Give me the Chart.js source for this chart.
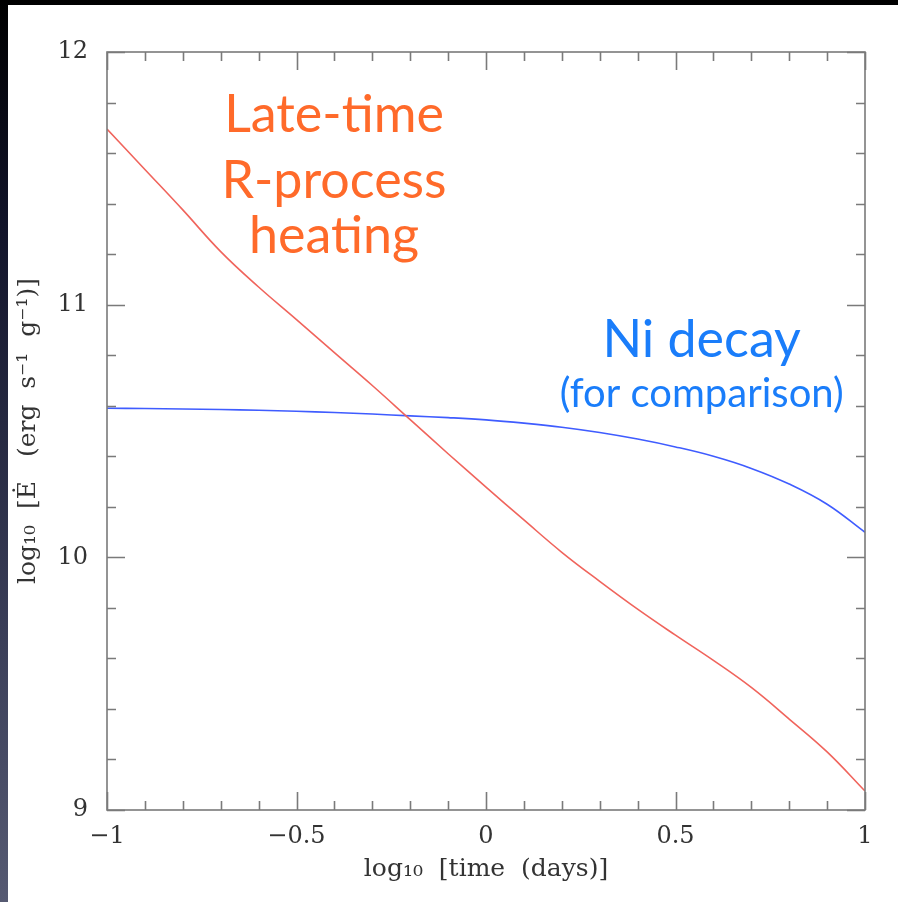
<!DOCTYPE html>
<html>
<head>
<meta charset="utf-8">
<script src="https://cdn.jsdelivr.net/npm/chart.js@4.4.1/dist/chart.umd.min.js"></script>
<style>
  html, body {
    margin: 0;
    padding: 0;
    width: 898px;
    height: 902px;
    overflow: hidden;
    background: linear-gradient(to bottom, #000 0%, #12142a 25%, #3a3e58 70%, #565a72 100%);
  }
  #panel {
    position: absolute;
    left: 8px;
    top: 5px;
    width: 890px;
    height: 897px;
    background: #fff;
  }
</style>
</head>
<body>
<div id="panel"><canvas id="heating" width="890" height="897"></canvas></div>
<script>
// log10 time in days
const logTime = [-1, -0.9, -0.8, -0.7, -0.6, -0.5, -0.4, -0.3, -0.2, -0.1, 0,
  0.1, 0.2, 0.3, 0.4, 0.5, 0.6, 0.7, 0.8, 0.9, 1];

// late-time r-process heating, log10 Edot (erg/s/g)
const rProcess = [11.695, 11.535, 11.375, 11.21, 11.07, 10.941, 10.81, 10.68, 10.545, 10.41, 10.278,
  10.148, 10.02, 9.905, 9.795, 9.692, 9.592, 9.485, 9.36, 9.23, 9.075];

// 56Ni decay heating for comparison
const niDecay = [10.59, 10.589, 10.587, 10.585, 10.582, 10.578, 10.573, 10.567, 10.56, 10.553, 10.544,
  10.531, 10.515, 10.494, 10.468, 10.437, 10.4, 10.352, 10.29, 10.21, 10.099];

const xTicks = [-1, -0.5, 0, 0.5, 1];
const yTicks = [9, 10, 11, 12];

const AXIS_COLOR = "#7a7a7a";
const LABEL_COLOR = "#333";
const SERIF = "'DejaVu Serif', serif";
const SANS = "Lato, 'Open Sans', sans-serif";

const toPoints = ys => logTime.map((t, i) => ({ x: t, y: ys[i] }));

// frame with inward ticks on all four sides
const frameTicks = {
  id: "frameTicks",
  afterDraw(chart) {
    const { ctx, chartArea: a, scales: { x, y } } = chart;
    ctx.save();
    ctx.strokeStyle = AXIS_COLOR;
    ctx.lineWidth = 1.6;
    ctx.strokeRect(a.left, a.top, a.right - a.left, a.bottom - a.top);
    ctx.beginPath();
    for (let i = 0; i <= 20; i++) {
      const v = -1 + i * 0.1;
      const px = Math.round(x.getPixelForValue(v)) + 0.5;
      const len = i % 5 === 0 ? 18 : 9;
      ctx.moveTo(px, a.bottom); ctx.lineTo(px, a.bottom - len);
      ctx.moveTo(px, a.top); ctx.lineTo(px, a.top + len);
    }
    for (let i = 0; i <= 15; i++) {
      const v = 9 + i * 0.2;
      const py = Math.round(y.getPixelForValue(v)) + 0.5;
      const len = i % 5 === 0 ? 18 : 9;
      ctx.moveTo(a.left, py); ctx.lineTo(a.left + len, py);
      ctx.moveTo(a.right, py); ctx.lineTo(a.right - len, py);
    }
    ctx.stroke();
    ctx.restore();
  }
};

// text labels placed in data coordinates
const notes = [
  { text: "Late-time", x: -0.401, y: 11.685, size: 52, color: "#ff6a2a" },
  { text: "R-process", x: -0.401, y: 11.422, size: 52, color: "#ff6a2a" },
  { text: "heating", x: -0.401, y: 11.203, size: 52, color: "#ff6a2a" },
  { text: "Ni decay", x: 0.569, y: 10.793, size: 52, color: "#1a7dfa" },
  { text: "(for comparison)", x: 0.569, y: 10.595, size: 40, color: "#1a7dfa" }
];

const noteLabels = {
  id: "noteLabels",
  afterDatasetsDraw(chart) {
    const { ctx, scales: { x, y } } = chart;
    ctx.save();
    ctx.textAlign = "center";
    ctx.textBaseline = "alphabetic";
    notes.forEach(n => {
      ctx.font = `${n.size}px ${SANS}`;
      ctx.fillStyle = n.color;
      ctx.fillText(n.text, x.getPixelForValue(n.x), y.getPixelForValue(n.y));
    });
    ctx.restore();
  }
};

new Chart(document.getElementById("heating"), {
  type: "scatter",
  data: {
    datasets: [{
      label: "R-process heating",
      data: toPoints(rProcess),
      showLine: true,
      borderColor: "#f0645c",
      borderWidth: 1.6,
      pointRadius: 0,
      tension: 0.4,
    }, {
      label: "Ni decay",
      data: toPoints(niDecay),
      showLine: true,
      borderColor: "#3f5cff",
      borderWidth: 1.6,
      pointRadius: 0,
      tension: 0.4,
    }],
  },
  options: {
    responsive: false,
    animation: false,
    layout: {
      padding: { top: 47, right: 33, left: 0, bottom: 0 },
    },
    plugins: {
      legend: { display: false },
      tooltip: { enabled: false },
    },
    scales: {
      x: {
        type: "linear",
        min: -1,
        max: 1,
        afterFit(scale) { scale.height = 92; },
        afterBuildTicks(scale) { scale.ticks = xTicks.map(v => ({ value: v })); },
        border: { display: false },
        grid: { display: false, drawTicks: false },
        ticks: {
          autoSkip: false,
          maxRotation: 0,
          padding: 12,
          color: LABEL_COLOR,
          font: { family: SERIF, size: 24 },
          callback: v => (v < 0 ? "\u2212" + Math.abs(v) : String(v)),
        },
        title: {
          display: true,
          text: "log\u2081\u2080  [time  (days)]",
          color: LABEL_COLOR,
          font: { family: SERIF, size: 25 },
          padding: { top: 0, bottom: 18 },
        },
      },
      y: {
        type: "linear",
        min: 9,
        max: 12,
        afterFit(scale) { scale.width = 99; },
        afterBuildTicks(scale) { scale.ticks = yTicks.map(v => ({ value: v })); },
        border: { display: false },
        grid: { display: false, drawTicks: false },
        ticks: {
          padding: 19,
          color: LABEL_COLOR,
          font: { family: SERIF, size: 24 },
        },
        title: {
          display: true,
          text: "log\u2081\u2080  [\u0116   (erg  s\u207b\u00b9  g\u207b\u00b9)]",
          color: LABEL_COLOR,
          font: { family: SERIF, size: 25 },
          padding: { top: 5, bottom: 0 },
        },
      },
    },
  },
  plugins: [frameTicks, noteLabels],
});
</script>
</body>
</html>
